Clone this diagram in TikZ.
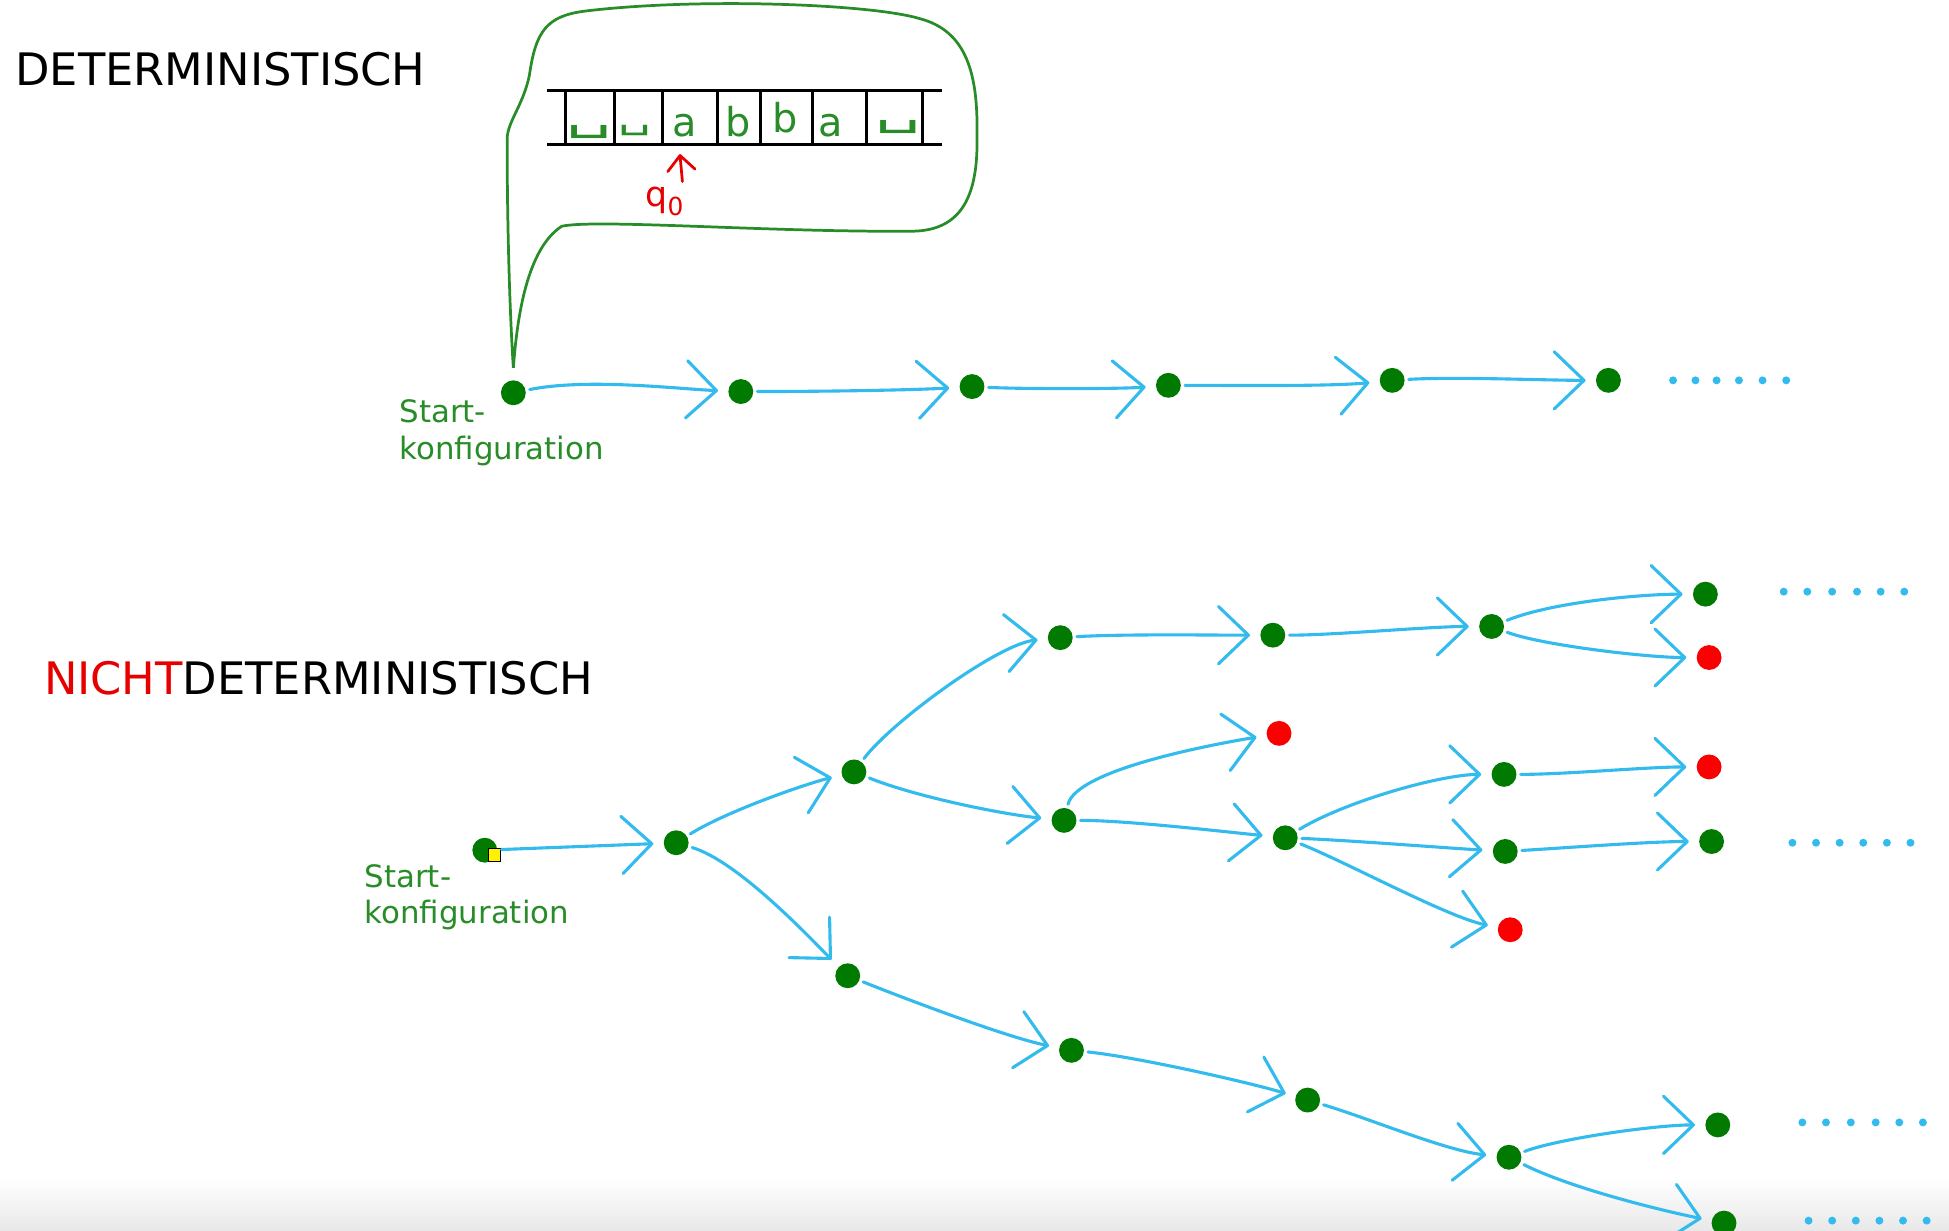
\documentclass[tikz,border=0pt]{standalone}
\usepackage{fontspec}
\setmainfont{DejaVu Sans}
\usetikzlibrary{arrows.meta}
\definecolor{cy}{RGB}{51,187,238}
\definecolor{dg}{RGB}{0,122,0}
\definecolor{rd}{RGB}{250,0,0}
\definecolor{tg}{RGB}{40,140,40}
\definecolor{tr}{RGB}{230,0,0}
\begin{document}
\begin{tikzpicture}[x=0.5pt,y=-0.5pt,
  cfg/.style={circle,fill=dg,inner sep=0pt,minimum size=10pt},
  bad/.style={circle,fill=rd,inner sep=0pt,minimum size=10pt},
  trans/.style={draw=cy,line width=1.25pt,line cap=round,line join=round,
    -{Straight Barb[length=12pt,width=23pt,round]},shorten >=4pt,shorten <=1.5pt},
  title/.style={anchor=base west,inner sep=0pt,font=\fontsize{18}{21}\selectfont},
  startlbl/.style={anchor=base west,inner sep=0pt,align=left,text=tg,font=\fontsize{12.4}{14.6}\selectfont},
  tapeline/.style={draw=black,line width=1.2pt},
  sym/.style={anchor=base,inner sep=0pt,text=tg,font=\fontsize{16}{16}\selectfont},
  dotc/.style={fill=cy},
]
\useasboundingbox (0,0) rectangle (1568,990);
\shade[top color=white,bottom color=black!9] (0,948) rectangle (1568,990);

% titles
\node[title] (t1) at (12,68.5) {DETERMINISTISCH};
\node[title] (t2) at (35,559) {\textcolor{tr}{NICHT}DETERMINISTISCH};

% speech bubble
\draw[tg,line width=1.1pt,line join=round]
  (413,296) .. controls (416,255) and (424,200) .. (452,182)
  .. controls (480,176) and (620,187) .. (735,186)
  .. controls (772,185) and (787,160) .. (786,110)
  .. controls (787,60) and (778,25) .. (740,15)
  .. controls (700,3) and (560,-2) .. (470,9)
  .. controls (440,13) and (431,25) .. (426,60)
  .. controls (421,85) and (408,98) .. (408,112)
  .. controls (408,180) and (410,250) .. (413,296);

% tape
\draw[tapeline] (440,73) -- (758,73);
\draw[tapeline] (440,116) -- (758,116);
\foreach \x in {455,494,533,577,612,654,697,742}
  \draw[tapeline] (\x,73) -- (\x,116);
\node[sym] (c1) at (474,104) {\scalebox{1.8}[1.0]{␣}};
\node[sym] (c2) at (511,103) {\scalebox{1.3}[0.8]{␣}};
\node[sym] (c3) at (551,110) {a};
\node[sym] (c4) at (594,110) {b};
\node[sym] (c5) at (632,107) {b};
\node[sym] (c6) at (668,110) {a};
\node[sym] (c7) at (723,100) {\scalebox{1.8}[1.0]{␣}};

% head
\coordinate (hb) at (549,146);
\coordinate (ht) at (547,124);
\draw[tr,line width=1.1pt,line cap=round,-{Straight Barb[length=6pt,width=11pt,round]}] (hb) -- (ht);
\node[anchor=base west,inner sep=0pt,text=tr,font=\fontsize{14}{14}\selectfont] (q0) at (519,166) {q\raisebox{-0.5ex}{\fontsize{10}{10}\selectfont 0}};

% deterministic chain
\node[cfg] (n1) at (413,316) {};
\node[cfg] (n2) at (596,315) {};
\node[cfg] (n3) at (782,311) {};
\node[cfg] (n4) at (940,310) {};
\node[cfg] (n5) at (1120,306) {};
\node[cfg] (n6) at (1294,306) {};
\node[startlbl] (s1) at (321,369.5) {Start-\\konfiguration};
\draw[trans] (n1) .. controls +(60,-12) and +(-50,-2) .. (n2);
\draw[trans] (n2) .. controls +(60,0) and +(-50,3) .. (n3);
\draw[trans] (n3) .. controls +(40,2) and +(-40,3) .. (n4);
\draw[trans] (n4) .. controls +(50,0) and +(-50,5) .. (n5);
\draw[trans] (n5) .. controls +(50,-3) and +(-50,0) .. (n6);
\foreach \x in {1346,1364,1381,1399,1418,1437}
  \fill[dotc] (\x,306) circle (1.6pt);

% nondeterministic tree
\node[cfg] (S) at (390,684) {};
\node[draw=black,fill=yellow,line width=0.4pt,minimum size=5pt,inner sep=0pt] (cur) at (398,688) {};
\node[startlbl] (s2) at (293,743) {Start-\\konfiguration};
\node[cfg] (A) at (544,678) {};
\node[cfg] (B) at (687,621) {};
\node[cfg] (C) at (682,785) {};
\node[cfg] (D) at (853,513) {};
\node[cfg] (E) at (856,660) {};
\node[cfg] (F) at (1024,511) {};
\node[bad] (G) at (1029,590) {};
\node[cfg] (H) at (1034,674) {};
\node[cfg] (I) at (1200,504) {};
\node[cfg] (J) at (1372,478) {};
\node[bad] (K) at (1375,529) {};
\node[cfg] (L) at (1210,623) {};
\node[bad] (M) at (1375,617) {};
\node[cfg] (N) at (1211,685) {};
\node[cfg] (O) at (1377,677) {};
\node[bad] (P) at (1215,748) {};
\node[cfg] (Q) at (862,845) {};
\node[cfg] (R) at (1052,885) {};
\node[cfg] (T) at (1214,931) {};
\node[cfg] (U) at (1382,905) {};
\node[cfg] (V) at (1387,984) {};

\draw[trans] (S) .. controls +(50,-2) and +(-50,2) .. (A);
\draw[trans] (A) .. controls +(40,-25) and +(-40,10) .. (B);
\draw[trans] (A) .. controls +(50,15) and +(-30,-30) .. (C);
\draw[trans] (B) .. controls +(30,-40) and +(-50,5) .. (D);
\draw[trans] (B) .. controls +(50,20) and +(-50,-5) .. (E);
\draw[trans] (D) .. controls +(50,-3) and +(-50,0) .. (F);
\draw[trans] (F) .. controls +(50,0) and +(-50,0) .. (I);
\draw[trans] (I) .. controls +(50,-20) and +(-50,0) .. (J);
\draw[trans] (I) .. controls +(40,15) and +(-50,0) .. (K);
\draw[trans] (E) .. controls +(10,-40) and +(-60,10) .. (G);
\draw[trans] (E) .. controls +(50,0) and +(-50,-5) .. (H);
\draw[trans] (H) .. controls +(50,-30) and +(-50,0) .. (L);
\draw[trans] (H) .. controls +(50,2) and +(-50,-3) .. (N);
\draw[trans] (H) .. controls +(50,20) and +(-50,-10) .. (P);
\draw[trans] (L) .. controls +(50,0) and +(-50,0) .. (M);
\draw[trans] (N) .. controls +(50,-3) and +(-50,0) .. (O);
\draw[trans] (C) .. controls +(50,20) and +(-50,-10) .. (Q);
\draw[trans] (Q) .. controls +(50,5) and +(-50,-15) .. (R);
\draw[trans] (R) .. controls +(50,15) and +(-50,-5) .. (T);
\draw[trans] (T) .. controls +(40,-15) and +(-50,0) .. (U);
\draw[trans] (T) .. controls +(50,25) and +(-50,-10) .. (V);

\foreach \x in {1435,1454,1474,1494,1513,1532}
  \fill[dotc] (\x,476) circle (1.6pt);
\foreach \x in {1442,1461,1480,1499,1518,1537}
  \fill[dotc] (\x,678) circle (1.6pt);
\foreach \x in {1450,1469,1489,1509,1528,1547}
  \fill[dotc] (\x,903) circle (1.6pt);
\foreach \x in {1455,1474,1493,1512,1531,1550}
  \fill[dotc] (\x,982) circle (1.6pt);
\end{tikzpicture}
\end{document}
